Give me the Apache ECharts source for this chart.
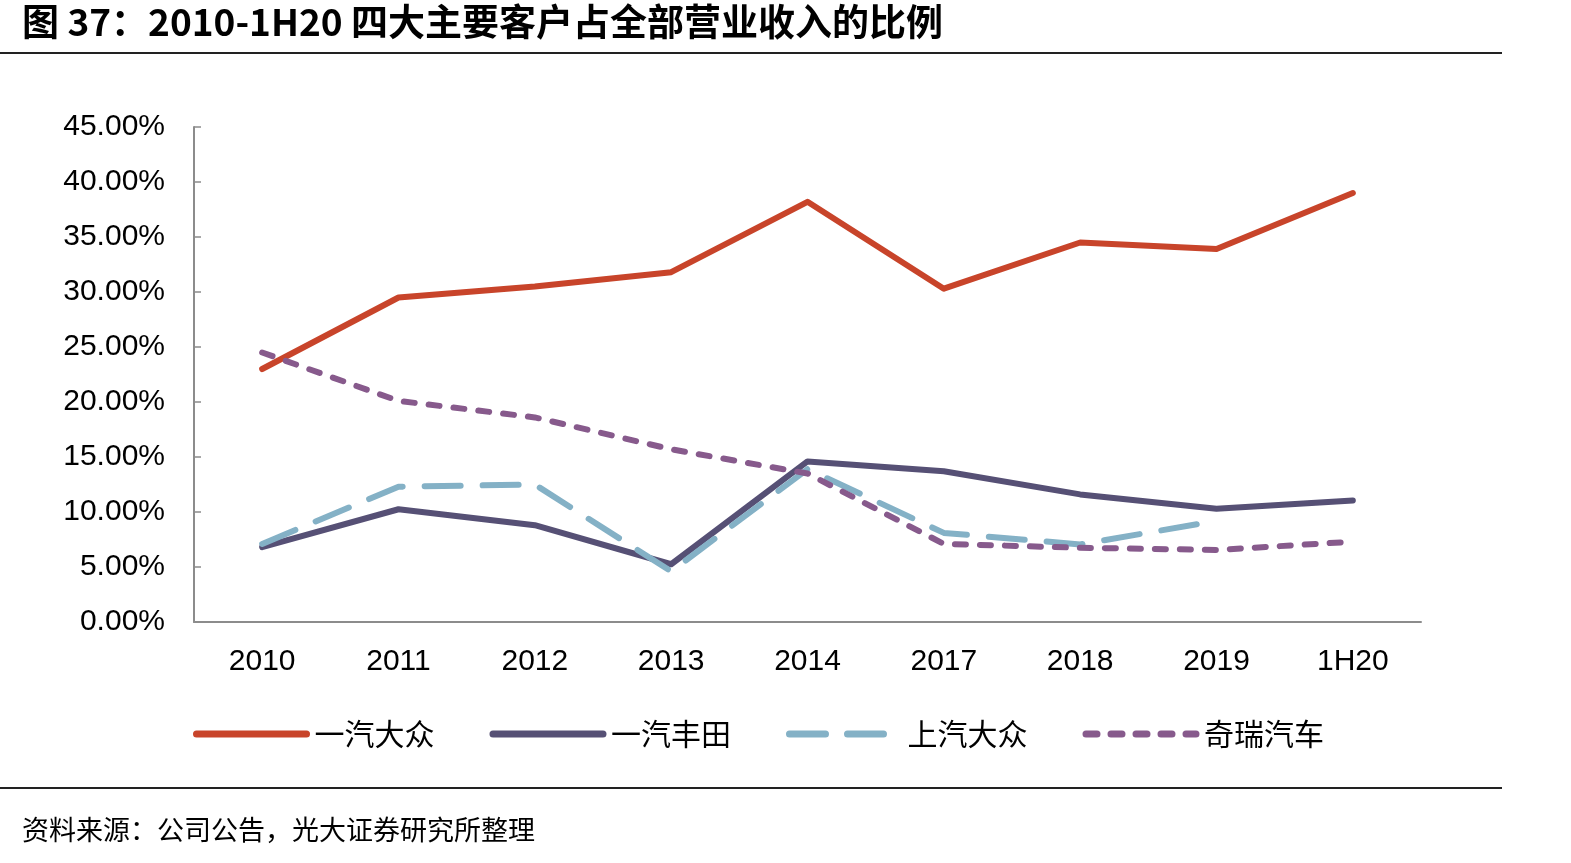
<!DOCTYPE html>
<html>
<head>
<meta charset="utf-8">
<script src="https://cdn.jsdelivr.net/npm/echarts@6/dist/echarts.min.js"></script>
<style>
  html, body { margin: 0; padding: 0; background: #fff; }
  #chart-container { width: 1571px; height: 863px; }
</style>
</head>
<body>
<div id="chart-container"></div>
<script>
// 图表数据
const years = ['2010', '2011', '2012', '2013', '2014', '2017', '2018', '2019', '1H20'];
const faw_vw = [23.0, 29.5, 30.5, 31.8, 38.2, 30.3, 34.5, 33.9, 39.0];
const faw_toyota = [6.8, 10.25, 8.8, 5.25, 14.6, 13.7, 11.6, 10.3, 11.05];
const saic_vw = [7.1, 12.3, 12.5, 4.6, 13.9, 8.1, 7.05, 9.2, null];
const chery = [24.5, 20.1, 18.6, 15.7, 13.5, 7.1, 6.75, 6.55, 7.3];
const seriesNames = ['一汽大众', '一汽丰田', '上汽大众', '奇瑞汽车'];

var dom = document.getElementById('chart-container');
var myChart = echarts.init(dom, null, { renderer: 'canvas' });

const latin = '"Liberation Sans", Arial, sans-serif';
const cjk = '"Noto Sans CJK SC", sans-serif';

function lineSeries(name, data, color, dash) {
  return {
    name: name,
    type: 'line',
    data: data,
    symbol: 'none',
    showSymbol: false,
    connectNulls: false,
    lineStyle: {
      color: color,
      width: 6,
      type: dash || 'solid',
      cap: 'round',
      join: 'round'
    },
    itemStyle: { color: color }
  };
}

var option = {
  animation: false,
  graphic: [
    {
      type: 'text', left: 22, top: 3,
      style: { text: '图 37：2010-1H20 四大主要客户占全部营业收入的比例', font: 'bold 37px "Noto Sans CJK SC", sans-serif', fill: '#000' }
    },
    { type: 'line', shape: { x1: 0, y1: 53, x2: 1502, y2: 53 }, style: { stroke: '#222', lineWidth: 2 } },
    { type: 'line', shape: { x1: 0, y1: 788, x2: 1502, y2: 788 }, style: { stroke: '#222', lineWidth: 2 } },
    {
      type: 'text', left: 22, top: 816,
      style: { text: '资料来源：公司公告，光大证券研究所整理', font: '27px "Noto Sans CJK SC", sans-serif', fill: '#000' }
    }
  ],
  grid: { left: 194, right: 150, top: 127, bottom: 241 },
  legend: {
    data: seriesNames,
    left: 188,
    top: 714,
    itemWidth: 110,
    itemHeight: 28,
    itemGap: 55,
    lineStyle: { width: 7 },
    itemStyle: { opacity: 0 },
    textStyle: { fontFamily: cjk, fontSize: 30, color: '#000', padding: [0, 0, 0, 3] }
  },
  xAxis: {
    type: 'category',
    data: years,
    boundaryGap: true,
    axisLine: { lineStyle: { color: '#8c8c8c', width: 2 } },
    axisTick: { inside: true, length: 9, lineStyle: { color: '#8c8c8c', width: 1.5 } },
    axisLabel: { fontFamily: latin, fontSize: 30, color: '#000', margin: 25 }
  },
  yAxis: {
    type: 'value',
    min: 0,
    max: 45,
    interval: 5,
    axisLine: { show: true, lineStyle: { color: '#8c8c8c', width: 2 } },
    axisTick: { show: true, inside: true, length: 7, lineStyle: { color: '#8c8c8c', width: 1.5 } },
    splitLine: { show: false },
    axisLabel: {
      fontFamily: latin, fontSize: 30, color: '#000', margin: 29,
      formatter: v => v.toFixed(2) + '%'
    }
  },
  series: [
    lineSeries('一汽大众', faw_vw, '#c8442a'),
    lineSeries('一汽丰田', faw_toyota, '#565075'),
    lineSeries('上汽大众', saic_vw, '#84b1c6', [36, 22]),
    lineSeries('奇瑞汽车', chery, '#875a8c', [11, 14])
  ]
};

myChart.setOption(option);
</script>
</body>
</html>
